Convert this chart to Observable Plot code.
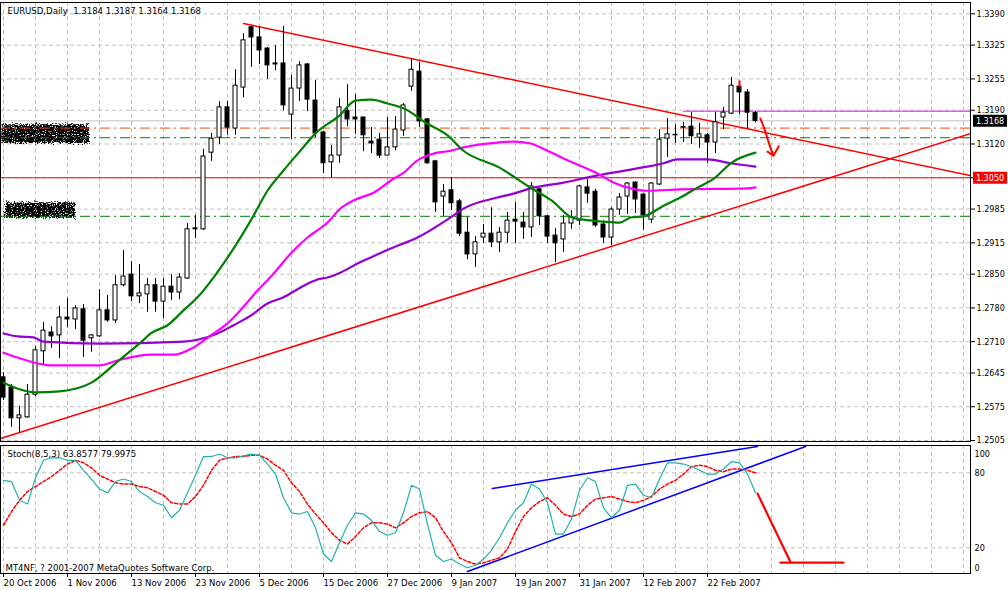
<!DOCTYPE html>
<html><head><meta charset="utf-8">
<script src="https://cdn.jsdelivr.net/npm/d3@7"></script>
<script src="https://cdn.jsdelivr.net/npm/@observablehq/plot@0.6"></script>
<style>
body{margin:0;background:#fff;}
#wrap{position:relative;width:1008px;height:590px;overflow:hidden;background:#fff;}
#wrap svg{position:absolute;left:0;}
</style></head><body><div id="wrap"></div>
<script>
// ---------- DATA ----------
const symbol = "EURUSD,Daily";
const open  = [1.2636,1.2615,1.2551,1.2553,1.2600,1.2690,1.2729,1.2723,1.2760,1.2756,1.2777,1.2717,1.2721,1.2775,1.2754,1.2827,1.2849,1.2804,1.2808,1.2827,1.2793,1.2824,1.2812,1.2841,1.2943,1.2943,1.3102,1.3133,1.3196,1.3152,1.3237,1.3362,1.3341,1.3318,1.3287,1.3287,1.3181,1.3235,1.3285,1.3210,1.3144,1.3082,1.3096,1.3189,1.3175,1.3175,1.3125,1.3129,1.3096,1.3113,1.3148,1.3239,1.3270,1.3171,1.3084,1.3011,1.3024,1.3001,1.2936,1.2891,1.2926,1.2934,1.2916,1.2936,1.2963,1.2957,1.2947,1.3026,1.2970,1.2930,1.2922,1.2955,1.2961,1.3030,1.3021,1.2953,1.2926,1.2984,1.3011,1.3040,1.3015,1.2963,1.3036,1.3131,1.3139,1.3155,1.3156,1.3133,1.3138,1.3123,1.3175,1.3183,1.3239,1.3227,1.3184];
const high  = [1.2646,1.2621,1.2576,1.2621,1.2700,1.2750,1.2741,1.2783,1.2800,1.2785,1.2787,1.2725,1.2818,1.2806,1.2847,1.2899,1.2876,1.2870,1.2841,1.2841,1.2841,1.2849,1.2851,1.2955,1.2972,1.3109,1.3142,1.3208,1.3208,1.3274,1.3349,1.3364,1.3362,1.3320,1.3324,1.3364,1.3262,1.3291,1.3287,1.3252,1.3144,1.3117,1.3214,1.3243,1.3223,1.3175,1.3154,1.3142,1.3175,1.3177,1.3204,1.3297,1.3289,1.3173,1.3086,1.3036,1.3050,1.3005,1.2968,1.2928,1.2953,1.2988,1.2947,1.2978,1.2999,1.2978,1.3040,1.3028,1.2972,1.2945,1.2972,1.2982,1.3034,1.3046,1.3026,1.2961,1.2988,1.3017,1.3040,1.3042,1.3017,1.3040,1.3150,1.3173,1.3160,1.3165,1.3185,1.3163,1.3142,1.3185,1.3196,1.3258,1.3241,1.3233,1.3187];
const low   = [1.2588,1.2532,1.2522,1.2551,1.2596,1.2661,1.2696,1.2675,1.2739,1.2735,1.2677,1.2688,1.2719,1.2750,1.2748,1.2824,1.2793,1.2789,1.2771,1.2771,1.2758,1.2795,1.2797,1.2839,1.2924,1.2941,1.3084,1.3119,1.3138,1.3138,1.3216,1.3279,1.3285,1.3254,1.3272,1.3189,1.3129,1.3208,1.3187,1.3133,1.3059,1.3050,1.3080,1.3156,1.3140,1.3104,1.3100,1.3090,1.3096,1.3106,1.3136,1.3229,1.3154,1.3078,1.2978,1.2970,1.2982,1.2928,1.2880,1.2864,1.2914,1.2905,1.2895,1.2914,1.2914,1.2922,1.2926,1.2951,1.2914,1.2874,1.2895,1.2943,1.2951,1.2997,1.2947,1.2914,1.2909,1.2972,1.2974,1.2976,1.2941,1.2955,1.3034,1.3092,1.3121,1.3123,1.3119,1.3111,1.3080,1.3100,1.3150,1.3181,1.3181,1.3152,1.3164];
const close = [1.2594,1.2551,1.2557,1.2600,1.2692,1.2733,1.2721,1.2760,1.2756,1.2779,1.2712,1.2723,1.2775,1.2754,1.2827,1.2845,1.2804,1.2810,1.2827,1.2793,1.2824,1.2812,1.2843,1.2943,1.2945,1.3094,1.3131,1.3196,1.3154,1.3241,1.3335,1.3341,1.3314,1.3283,1.3285,1.3200,1.3235,1.3283,1.3212,1.3142,1.3080,1.3096,1.3196,1.3171,1.3171,1.3138,1.3121,1.3096,1.3113,1.3150,1.3200,1.3274,1.3167,1.3080,1.2999,1.3021,1.2997,1.2934,1.2891,1.2916,1.2934,1.2916,1.2936,1.2961,1.2959,1.2947,1.3032,1.2970,1.2928,1.2914,1.2955,1.2968,1.3032,1.3017,1.2951,1.2926,1.2984,1.3009,1.3038,1.3005,1.2972,1.3038,1.3129,1.3140,1.3138,1.3154,1.3136,1.3140,1.3123,1.3165,1.3185,1.3241,1.3227,1.3185,1.3168];

const maGreenIdx = [0,4,7,11,14,17.4,18.4,20.5,22.5,24.25,26.25,28.75,30.9,33,35,37.1,39,42,44,46,48,50,53,55.5,57.5,62,66,68.5,71,72.5,75,77,78.5,80,82.5,84.6,86.8,88.8,90.9,94];
const maGreen    = [1.2625,1.2605,1.2607,1.2625,1.2665,1.2712,1.2727,1.2744,1.2775,1.2802,1.2843,1.2903,1.2961,1.3023,1.3065,1.3106,1.3142,1.3179,1.3210,1.3212,1.3204,1.3194,1.3162,1.3138,1.3106,1.3071,1.3028,1.3003,1.2968,1.2963,1.2959,1.2957,1.2968,1.2970,1.2992,1.3009,1.3030,1.3048,1.3080,1.3102];
const maMagentaIdx = [0,1.75,5.9,12.1,14.25,18.4,21.25,23.75,25.9,28,29.6,31.75,33.75,35.9,38,40.5,42.1,43.75,46.25,48.75,50,51.75,53.75,55.9,57.5,61.75,63.75,65.9,68,70,72.1,74.25,76.25,78.4,80.5,84.6,93,94];
const maMagenta    = [1.2687,1.2677,1.2661,1.2661,1.2671,1.2683,1.2683,1.2698,1.2723,1.2748,1.2775,1.2816,1.2851,1.2893,1.2926,1.2957,1.2986,1.3003,1.3019,1.3048,1.3060,1.3086,1.3100,1.3106,1.3113,1.3123,1.3125,1.3121,1.3106,1.3090,1.3075,1.3059,1.3040,1.3028,1.3023,1.3026,1.3028,1.3030];
const maPurpleIdx = [0,1.75,3.75,5,12,22.5,24.25,26.75,28.75,30.9,33,35,37.1,39.25,40.5,42.1,44.25,46.25,48.4,51.75,55.9,57.5,61.75,63.75,65.9,70,74.25,78.4,82.5,84.25,88,90.9,94];
const maPurple    = [1.2727,1.2721,1.2719,1.2710,1.2706,1.2710,1.2714,1.2727,1.2744,1.2764,1.2789,1.2802,1.2822,1.2839,1.2843,1.2853,1.2872,1.2887,1.2903,1.2926,1.2968,1.2986,1.3009,1.3017,1.3028,1.3040,1.3055,1.3067,1.3080,1.3088,1.3088,1.3080,1.3073];

const stochMain = [74,73,58,55,76,90,92,92,90,90, 82,75,67,64,73,75,73,65,61,56, 54,44,50,64,78,93,93,95,92,92, 93.5,95,94,87,79,60,48,47,49,36, 15,9,24,38,48,47,42,33,30,32, 48,70,67,39,14,9,11,7,4,6, 11,18,28,40,50,56,71,67,56,31, 31,43,66,76,73,52,44,50,70,71, 62,60,75,88,88,87,85,82,79,79, 83,89,88,79,63.86];
const stochSignal = [38,49,58,65,69,73,77,82,87,90, 88,84,78,75,72,71,71,69,68,65, 62,56,55,55,61,70,82,90,92,93, 93,94,94,91,86,82,72,65,55,47, 40,32,26,23,29,36,40,40,39,36, 40,45,48,49,44,33,24,12,9,7, 8,10,12,19,33,45,52,57,60,54, 47,45,47,54,59,60,61,59,57,56, 58,61,67,71,74,79,85,86,85,82, 81,83,83,82,80.0];
const stochLast = ["63.8577","79.9975"];

const priceTicks = [1.3390,1.3325,1.3255,1.3190,1.3120,1.3050,1.2985,1.2915,1.2850,1.2780,1.2710,1.2645,1.2575,1.2505];
const stochTicks = [100,80,20,0];
const dateTickIdx = [0,8,16,24,32,40,48,56,64,72,80,88];
const dateLabels = ["20 Oct 2006","1 Nov 2006","13 Nov 2006","23 Nov 2006","5 Dec 2006","15 Dec 2006","27 Dec 2006","9 Jan 2007","19 Jan 2007","31 Jan 2007","12 Feb 2007","22 Feb 2007"];

// chart objects (in data units)
const bidPrice = 1.3168;
const redLevel = 1.3050;
const orangeLevels = [1.3153];
const greenLevels = [1.3133, 1.2970];
const highLevel = 1.3188, highLevelFrom = 85;
const trendDownIdx = [30, 120.875], trendDownPrice = [1.3370, 1.30546];
const trendUpIdx = [-0.375, 120.875], trendUpPrice = [1.2509, 1.31417];
const arrowIdx = [94.6,95.1,95.5,95.9,96.25], arrowPrice = [1.3173,1.3152,1.3131,1.3111,1.3096];
const arrowHeadIdx = [95.5,96.25,96.9], arrowHeadPrice = [1.3104,1.3096,1.3115];
const blobX1 = [-0.2, 0.25], blobX2 = [10.75, 9], blobY1 = [1.3121, 1.2966], blobY2 = [1.3160, 1.2998];
const stUpperIdx = [61.1, 94.25], stUpperVal = [67.4, 101];
const stLowerIdx = [58, 100.25], stLowerVal = [1, 101];
const stRedIdx = [94.25, 98.4], stRedVal = [63.4, 8.2];
const stFlatIdx = [97.1, 105], stFlatVal = [8.2, 8.2];
const tagIdx = [121.25, 125.5];   // price-tag box, in bar units right of the last grid line

// ---------- BUILD ----------
const FONT = '"DejaVu Sans Condensed","DejaVu Sans",sans-serif';
const XD = [-0.375, 120.875];
const gridIdx = d3.range(0, 121, 4);
const candles = open.map((o, i) => ({i, o, h: high[i], l: low[i], c: close[i]}));
const pts = (xs, ys) => xs.map((x, k) => ({x, y: ys[k]}));
const blobs = blobX1.map((x1, k) => ({x1, x2: blobX2[k], y1: blobY1[k], y2: blobY2[k]}));
const last = candles[candles.length - 1];
const title = `${symbol}\u00a0\u00a0${last.o.toFixed(4)} ${last.h.toFixed(4)} ${last.l.toFixed(4)} ${last.c.toFixed(4)}`;

const gridStyle = {stroke: "#c0c0c0", strokeOpacity: 1, strokeDasharray: "4,3"};
const tagMarks = (value, bg) => [
  Plot.ruleY([value], {x1: tagIdx[0], x2: tagIdx[1], stroke: bg, strokeWidth: 12}),
  Plot.text([value], {x: tagIdx[0] + 0.3, y: d => d, text: d => d.toFixed(4), fill: "white", textAnchor: "start", fontSize: 9})
];

const main = Plot.plot({
  width: 1008, height: 443, marginTop: 2, marginBottom: 2, marginLeft: 0, marginRight: 38,
  style: {fontFamily: FONT, fontSize: "9px", background: "transparent", overflow: "visible", color: "black"},
  x: {domain: XD, axis: null},
  y: {domain: [1.25029, 1.34135], axis: null},
  marks: [
    Plot.gridY(priceTicks, gridStyle),
    Plot.gridX(gridIdx, gridStyle),
    Plot.rect(blobs, {x1: "x1", x2: "x2", y1: "y1", y2: "y2", fill: "#000", ariaLabel: () => "blob"}),
    Plot.ruleY([bidPrice], {stroke: "#c0c0c0"}),
    Plot.ruleY([redLevel], {stroke: "red"}),
    Plot.ruleY(orangeLevels, {stroke: "#ff4500", strokeDasharray: "10,4,2,4"}),
    Plot.ruleY(greenLevels, {stroke: "#008000", strokeDasharray: "10,4,2,4"}),
    Plot.ruleY([highLevel], {x1: highLevelFrom, x2: XD[1], stroke: "#ff00ff"}),
    Plot.line(pts(trendDownIdx, trendDownPrice), {x: "x", y: "y", stroke: "red", clip: true}),
    Plot.line(pts(trendUpIdx, trendUpPrice), {x: "x", y: "y", stroke: "red", clip: true}),
    Plot.ruleX(candles, {x: "i", y1: "l", y2: "h", stroke: "black"}),
    Plot.rect(candles, {x1: d => d.i - 0.25, x2: d => d.i + 0.25, y1: "o", y2: "c",
      fill: d => d.c >= d.o ? "white" : "black", stroke: "black", strokeWidth: 1}),
    Plot.line(pts(maPurpleIdx, maPurple), {x: "x", y: "y", stroke: "#9400d3", strokeWidth: 2.2, curve: "monotone-x"}),
    Plot.line(pts(maMagentaIdx, maMagenta), {x: "x", y: "y", stroke: "#ff00ff", strokeWidth: 2.2, curve: "monotone-x"}),
    Plot.line(pts(maGreenIdx, maGreen), {x: "x", y: "y", stroke: "#008000", strokeWidth: 2.2, curve: "monotone-x"}),
    Plot.ruleX([92], {y1: 1.3237, y2: 1.3251, stroke: "red", strokeWidth: 2}),
    Plot.line(pts(arrowIdx, arrowPrice), {x: "x", y: "y", stroke: "red", strokeWidth: 2, curve: "natural"}),
    Plot.line(pts(arrowHeadIdx, arrowHeadPrice), {x: "x", y: "y", stroke: "red", strokeWidth: 2}),
    Plot.axisY(priceTicks, {anchor: "right", tickSize: 4, tickPadding: 2,
      tickFormat: d => d === redLevel ? "" : d.toFixed(4), label: null, fontSize: 9}),
    Plot.frame({stroke: "black"}),
    Plot.text([title], {frameAnchor: "top-left", dx: 7, dy: 5, lineAnchor: "top", textAnchor: "start", fontSize: 9.5, fill: "black"}),
    ...tagMarks(bidPrice, "black"),
    ...tagMarks(redLevel, "red")
  ]
});

// speckled "scribble" texture for the two blotted labels
const defs = d3.select(main).insert("defs", ":first-child");
const f = defs.append("filter").attr("id", "speckle").attr("filterUnits", "objectBoundingBox")
  .attr("x", "-0.05").attr("y", "-0.25").attr("width", "1.1").attr("height", "1.5");
f.append("feTurbulence").attr("type", "fractalNoise").attr("baseFrequency", "0.9").attr("numOctaves", 2).attr("seed", 3).attr("result", "n");
f.append("feDisplacementMap").attr("in", "SourceGraphic").attr("in2", "n").attr("scale", 7).attr("xChannelSelector", "R").attr("yChannelSelector", "G").attr("result", "d");
f.append("feColorMatrix").attr("in", "n").attr("type", "matrix")
  .attr("values", "0 0 0 0 0  0 0 0 0 0  0 0 0 0 0  0 0 0 6 -1.6").attr("result", "a");
f.append("feComposite").attr("in", "d").attr("in2", "a").attr("operator", "in");
d3.select(main).selectAll('[aria-label="blob"]').attr("filter", "url(#speckle)");

const stoch = Plot.plot({
  width: 1008, height: 147, marginTop: 2, marginBottom: 17, marginLeft: 0, marginRight: 38,
  style: {fontFamily: FONT, fontSize: "9px", background: "transparent", overflow: "visible", color: "black"},
  x: {domain: XD, axis: null},
  y: {domain: [-0.56, 101.84], axis: null},
  marks: [
    Plot.gridY([80, 20], gridStyle),
    Plot.gridX(gridIdx, gridStyle),
    Plot.line(pts(stUpperIdx, stUpperVal), {x: "x", y: "y", stroke: "#0000ff", strokeWidth: 1.5, clip: true}),
    Plot.line(pts(stLowerIdx, stLowerVal), {x: "x", y: "y", stroke: "#0000ff", strokeWidth: 1.5, clip: true}),
    Plot.line(stochSignal.map((v, i) => ({i, v})), {x: "i", y: "v", stroke: "red", strokeDasharray: "3,2"}),
    Plot.line(stochMain.map((v, i) => ({i, v})), {x: "i", y: "v", stroke: "#20b2aa", strokeWidth: 1.2}),
    Plot.line(pts(stRedIdx, stRedVal), {x: "x", y: "y", stroke: "red", strokeWidth: 2.2}),
    Plot.line(pts(stFlatIdx, stFlatVal), {x: "x", y: "y", stroke: "red", strokeWidth: 2.2}),
    Plot.text([80, 20], {y: d => d, text: d => String(d), frameAnchor: "right", textAnchor: "start", dx: 4, fontSize: 9}),
    Plot.text([stochTicks[0]], {y: d => d, text: d => String(d), frameAnchor: "right", textAnchor: "start", dx: 4, dy: 6, fontSize: 9}),
    Plot.text([stochTicks[3]], {y: d => d, text: d => String(d), frameAnchor: "right", textAnchor: "start", dx: 4, dy: -5, fontSize: 9}),
    Plot.axisX(dateTickIdx, {anchor: "bottom", tickSize: 4, tickPadding: 2, textAnchor: "start", dx: 0,
      tickFormat: d => dateLabels[dateTickIdx.indexOf(d)], label: null, fontSize: 9.5}),
    Plot.frame({stroke: "black"}),
    Plot.text([`Stoch(8,5,3) ${stochLast[0]} ${stochLast[1]}`], {frameAnchor: "top-left", dx: 7, dy: 5, lineAnchor: "top", textAnchor: "start", fontSize: 9.5}),
    Plot.text(["MT4NF, ? 2001-2007 MetaQuotes Software Corp."], {frameAnchor: "bottom-left", dx: 5, dy: -3, lineAnchor: "bottom", textAnchor: "start", fontSize: 9.5})
  ]
});

main.style.top = "0px";
stoch.style.top = "443px";
document.getElementById("wrap").append(main, stoch);
</script></body></html>
